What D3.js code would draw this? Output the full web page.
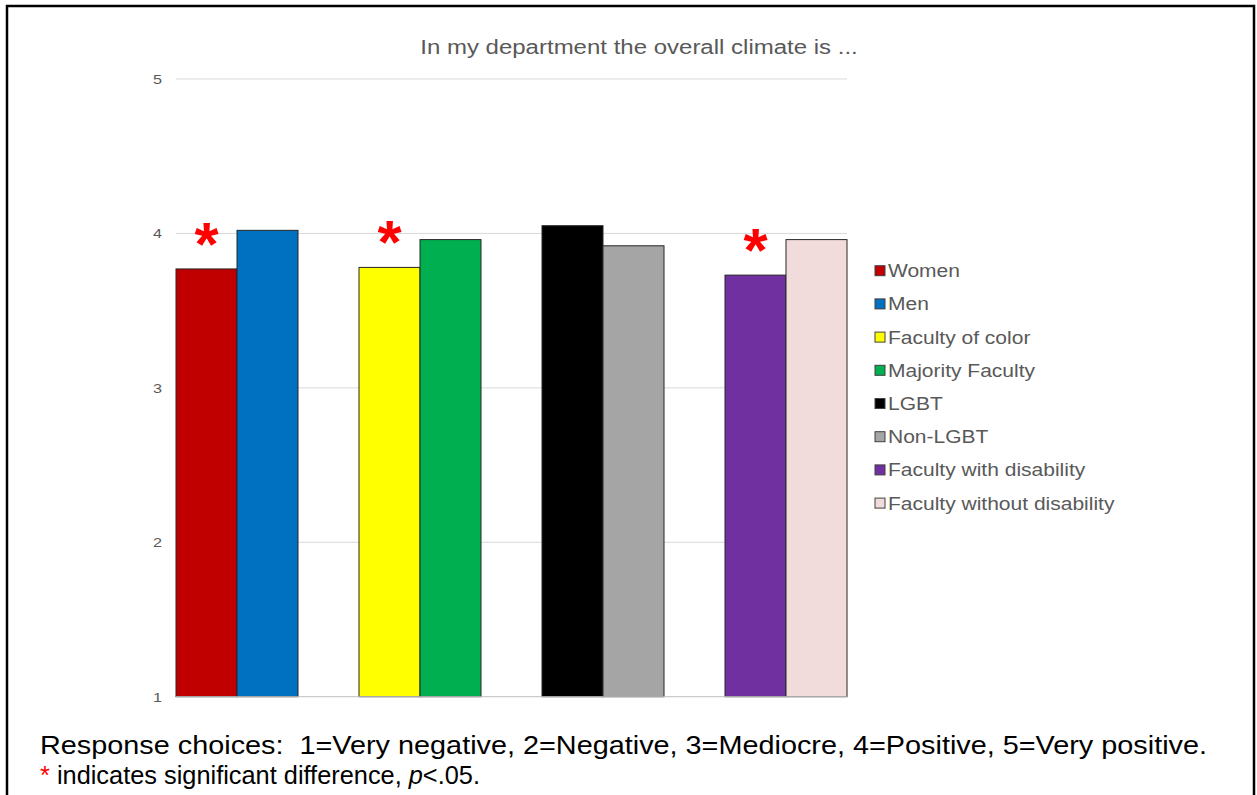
<!DOCTYPE html>
<html>
<head>
<meta charset="utf-8">
<script src="https://d3js.org/d3.v7.min.js"></script>
<style>
  html, body { margin: 0; padding: 0; background: #fff; }
  svg { display: block; font-family: "Liberation Sans", Arial, sans-serif; }
</style>
</head>
<body>
<svg id="chart" width="1257" height="795"></svg>
<script>
// ---- data ----
const groups = ["Gender", "Race/ethnicity", "Sexual orientation", "Disability"];
const seriesLabels = ["Women", "Men", "Faculty of color", "Majority Faculty", "LGBT", "Non-LGBT", "Faculty with disability", "Faculty without disability"];
const seriesGroup = ["Gender", "Gender", "Race/ethnicity", "Race/ethnicity", "Sexual orientation", "Sexual orientation", "Disability", "Disability"];
const seriesValues = [3.77, 4.02, 3.78, 3.96, 4.05, 3.92, 3.73, 3.96];
const seriesColors = ["#C00000", "#0070C0", "#FFFF00", "#00B050", "#000000", "#A5A5A5", "#7030A0", "#F2DCDB"];
const significant = [true, false, true, false, false, false, true, false];
const yTicks = [1, 2, 3, 4, 5];
const title = "In my department the overall climate is ...";
const note1 = "Response choices:  1=Very negative, 2=Negative, 3=Mediocre, 4=Positive, 5=Very positive.";

(function () {
const svg = d3.select("#chart");
const SX = 1.2; // horizontal glyph stretch seen in the reference

function stretch(sel, factor) {
  sel.each(function () {
    const w = this.getComputedTextLength();
    d3.select(this).attr("textLength", w * factor).attr("lengthAdjust", "spacingAndGlyphs");
  });
}
function fitTo(sel, width) {
  sel.attr("textLength", width).attr("lengthAdjust", "spacingAndGlyphs");
}

// frame
svg.append("rect")
  .attr("x", 7).attr("y", 6).attr("width", 1247).attr("height", 800)
  .attr("fill", "none").attr("stroke", "#000").attr("stroke-width", 2.5);

const plotLeft = 176, plotRight = 847, plotTop = 79, plotBottom = 696.7;

const x0 = d3.scaleBand().domain(groups).range([plotLeft, plotRight]).paddingInner(1/3).paddingOuter(0);
const x1 = d3.scaleBand().domain([0, 1]).range([0, x0.bandwidth()]);
const y = d3.scaleLinear().domain([1, 5]).range([plotBottom, plotTop]);

// gridlines
svg.append("g").selectAll("line").data(yTicks.filter(t => t > 1)).join("line")
  .attr("x1", plotLeft).attr("x2", plotRight)
  .attr("y1", d => y(d)).attr("y2", d => y(d))
  .attr("stroke", "#d9d9d9").attr("stroke-width", 1);

// y axis labels
const yAxis = d3.axisLeft(y).tickValues(yTicks).tickSize(0).tickPadding(0).tickFormat(d3.format("d"));
const yg = svg.append("g").attr("transform", `translate(${162},0)`).call(yAxis);
yg.select(".domain").remove();
yg.selectAll("text").attr("fill", "#595959").attr("font-size", 13.5)
  .attr("font-family", "Liberation Sans, Arial, sans-serif");
stretch(yg.selectAll("text"), SX);

// bars
const data = seriesLabels.map((s, i) => ({
  label: s, group: seriesGroup[i], idx: seriesGroup.slice(0, i).filter(g => g === seriesGroup[i]).length,
  value: seriesValues[i], color: seriesColors[i], sig: significant[i]
}));

svg.append("g").selectAll("rect").data(data).join("rect")
  .attr("x", d => x0(d.group) + x1(d.idx))
  .attr("y", d => y(d.value))
  .attr("width", x1.bandwidth())
  .attr("height", d => y(1) - y(d.value))
  .attr("fill", d => d.color)
  .attr("stroke", "#262626").attr("stroke-width", 1);

// baseline axis
svg.append("line").attr("x1", plotLeft).attr("x2", plotRight)
  .attr("y1", y(1)).attr("y2", y(1)).attr("stroke", "#bfbfbf").attr("stroke-width", 1);

// significance asterisks
svg.append("g").selectAll("text").data(data.filter(d => d.sig)).join("text")
  .attr("x", d => x0(d.group) + x1(d.idx) + x1.bandwidth() / 2)
  .attr("y", d => y(d.value) - 4)
  .attr("text-anchor", "middle")
  .attr("font-size", 62).attr("font-weight", "bold")
  .attr("fill", "#FF0000")
  .text("*");

// title
const t = svg.append("text").attr("x", 639).attr("y", 54).attr("text-anchor", "middle")
  .attr("font-size", 20).attr("fill", "#595959").text(title);
stretch(t, SX);

// legend
const lg = svg.append("g");
const rows = lg.selectAll("g").data(data).join("g")
  .attr("transform", (d, i) => `translate(875, ${270.7 + i * 33.2})`);
rows.append("rect").attr("x", 0).attr("y", -5).attr("width", 10).attr("height", 10)
  .attr("fill", d => d.color).attr("stroke", "#404040").attr("stroke-width", 1);
const lt = rows.append("text").attr("x", 13).attr("y", 6.5)
  .attr("font-size", 17.5).attr("fill", "#595959").text(d => d.label);
stretch(lt, SX);

// notes
const n1 = svg.append("text").attr("x", 40).attr("y", 754).attr("font-size", 25).attr("fill", "#000")
  .style("white-space", "pre").text(note1);
fitTo(n1, 1167);
const n2 = svg.append("text").attr("x", 40).attr("y", 784).attr("font-size", 25).attr("fill", "#000")
  .style("white-space", "pre");
n2.append("tspan").attr("fill", "#FF0000").text("*");
n2.append("tspan").text(" indicates significant difference, ");
n2.append("tspan").attr("font-style", "italic").text("p");
n2.append("tspan").text("<.05.");
fitTo(n2, 440);
})();
</script>
</body>
</html>
